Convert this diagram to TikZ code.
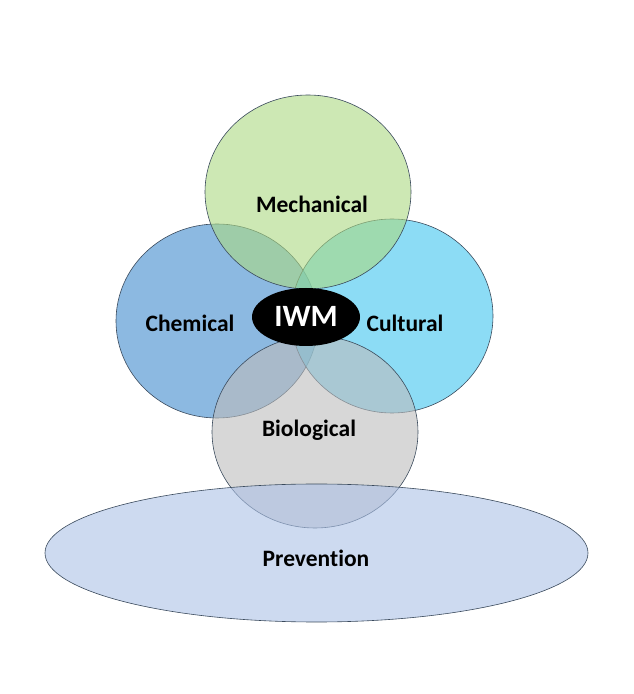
\documentclass[tikz,border=0pt]{standalone}
\usepackage{fontspec}
\setmainfont[Ligatures=NoCommon]{Carlito}
\definecolor{rim}{RGB}{58,74,92}
\definecolor{mechfill}{RGB}{172,217,130}
\definecolor{chemfill}{RGB}{63,138,205}
\definecolor{cultfill}{RGB}{63,197,238}
\definecolor{biofill}{RGB}{188,188,188}
\definecolor{prevfill}{RGB}{172,193,230}
\begin{document}
\begin{tikzpicture}[x=1pt, y=1pt,
    area/.style={draw=rim, line width=0.6pt, fill opacity=0.6},
    lbl/.style={font=\fontsize{23.5}{28}\selectfont\bfseries, text=black}]

    \useasboundingbox (0,0) rectangle (633,694);

    % Circles
    \draw[area, fill=chemfill] (217,373) ellipse (101 and 97);
    \draw[area, fill=cultfill] (392,378) ellipse (101 and 97);
    \draw[area, fill=mechfill] (308,502) ellipse (103 and 97);
    \draw[area, fill=biofill] (315,262) ellipse (103 and 96);
    \draw[area, fill=prevfill] (316.5,141) ellipse (271.5 and 69);
    \fill[black] (306,377) ellipse (54 and 29);

    % Labels
    \node[lbl] at (312,490) (Mech) {Mechanical};
    \node[lbl] at (190,371) (Chem) {Chemical};
    \node[lbl] at (405,371) (Cult) {Cultural};
    \node[lbl] at (309,264) (Bio) {Biological};
    \node[lbl] at (316,136) (Prev) {Prevention};
    \node[font=\fontsize{31}{36}\selectfont\bfseries, text=white] at (306,378) (IWM) {IWM};

\end{tikzpicture}
\end{document}
